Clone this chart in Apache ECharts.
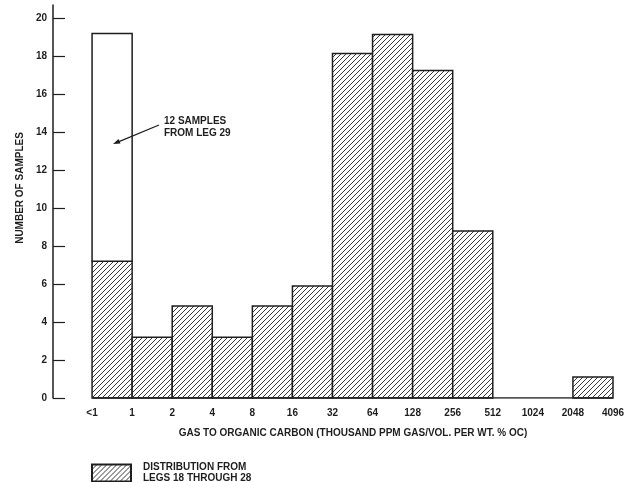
<!DOCTYPE html>
<html><head><meta charset="utf-8">
<script src="https://cdn.jsdelivr.net/npm/echarts@6/dist/echarts.min.js"></script>
<style>html,body{margin:0;padding:0;background:#fff}#c{width:640px;height:482px}</style>
</head><body><div id="c"></div>
<script>
// Bin edge labels (x axis)
const binLabels = ['<1','1','2','4','8','16','32','64','128','256','512','1024','2048','4096'];
// Hatched: distribution from Legs 18 through 28
const legs18to28 = [7.2, 3.2, 4.85, 3.2, 4.85, 5.9, 18.15, 19.15, 17.25, 8.8, 0, 0, 1.1];
// Open: 12 samples from Leg 29 (stacked on top)
const leg29 = [12, 0, 0, 0, 0, 0, 0, 0, 0, 0, 0, 0, 0];
// Y tick values
const yTicks = [0, 2, 4, 6, 8, 10, 12, 14, 16, 18, 20];
const edgeValues = binLabels.map((_, i) => i);

const FONT = 'Liberation Sans, Arial, sans-serif';
const INK = '#1e1e1e';

function hatchCanvas() {
  const s = 5;
  const c = document.createElement('canvas');
  c.width = s; c.height = s;
  const g = c.getContext('2d');
  g.fillStyle = '#fff'; g.fillRect(0, 0, s, s);
  g.strokeStyle = '#3a3a3a'; g.lineWidth = 1;
  g.beginPath();
  g.moveTo(0, s); g.lineTo(s, 0);
  g.moveTo(-1, 1); g.lineTo(1, -1);
  g.moveTo(s - 1, s + 1); g.lineTo(s + 1, s - 1);
  g.stroke();
  return c;
}
const hatch = { image: hatchCanvas(), repeat: 'repeat' };

const hatchedData = legs18to28.map((v, i) => [i, i + 1, 0, v]);
const openData = leg29.map((v, i) => [i, i + 1, legs18to28[i], legs18to28[i] + v]).filter(d => d[3] > d[2]);
const baseline = [[0, 0], [binLabels.length - 1, 0]];

function makeRender(fill) {
  return function (params, api) {
    const x0 = api.value(0), x1 = api.value(1), y0 = api.value(2), y1 = api.value(3);
    if (y1 <= y0) return null;
    const p0 = api.coord([x0, y1]);
    const p1 = api.coord([x1, y0]);
    return {
      type: 'rect',
      shape: { x: p0[0], y: p0[1], width: p1[0] - p0[0], height: p1[1] - p0[1] },
      style: { fill: fill, stroke: INK, lineWidth: 1.5 }
    };
  };
}

const txt = { fontSize: 10, fontWeight: 'bold', color: INK, fontFamily: FONT };

const chart = echarts.init(document.getElementById('c'), null, { renderer: 'canvas' });
chart.setOption({
  animation: false,
  backgroundColor: '#fff',
  grid: { left: 53, right: 27, top: 5, bottom: 84 },
  xAxis: {
    type: 'value', min: -0.975, max: binLabels.length - 1,
    axisLine: { show: false, onZero: false },
    axisTick: { show: false },
    splitLine: { show: false },
    axisLabel: Object.assign({ margin: 10, customValues: edgeValues, formatter: v => binLabels[Math.round(v)] }, txt)
  },
  yAxis: {
    type: 'value', min: 0, max: 20.7,
    axisLine: { show: true, onZero: false, lineStyle: { color: INK, width: 1.5 } },
    axisTick: { show: true, inside: true, length: 12, lineStyle: { color: INK, width: 1.2 }, customValues: yTicks },
    splitLine: { show: false },
    axisLabel: Object.assign({ margin: 6, customValues: yTicks }, txt)
  },
  legend: {
    data: ['DISTRIBUTION FROM\nLEGS 18 THROUGH 28'],
    left: 86, top: 457, itemWidth: 39, itemHeight: 17, icon: 'rect',
    selectedMode: false,
    textStyle: Object.assign({ lineHeight: 11, padding: [0, 0, 0, 7] }, txt)
  },
  series: [
    {
      name: 'DISTRIBUTION FROM\nLEGS 18 THROUGH 28',
      type: 'custom',
      renderItem: makeRender(hatch),
      itemStyle: { color: hatch, borderColor: INK, borderWidth: 1.5 },
      encode: { x: [0, 1], y: [2, 3] },
      data: hatchedData
    },
    {
      name: '12 SAMPLES FROM LEG 29',
      type: 'custom',
      renderItem: makeRender('#fff'),
      itemStyle: { color: '#fff', borderColor: INK },
      encode: { x: [0, 1], y: [2, 3] },
      data: openData
    },
    {
      name: 'baseline',
      type: 'line',
      data: baseline,
      showSymbol: false,
      symbol: 'none',
      silent: true,
      z: 5,
      lineStyle: { color: INK, width: 1.5 }
    }
  ],
  graphic: [
    { type: 'text', x: 20, y: 188, rotation: Math.PI / 2, z: 10,
      style: { text: 'NUMBER OF SAMPLES', fontSize: 10, fontWeight: 'bold', fontFamily: FONT, fill: INK, align: 'center', verticalAlign: 'middle' } },
    { type: 'text', x: 353, y: 433, z: 10,
      style: { text: 'GAS TO ORGANIC CARBON (THOUSAND PPM GAS/VOL. PER WT. % OC)', fontSize: 10, fontWeight: 'bold', fontFamily: FONT, fill: INK, align: 'center', verticalAlign: 'middle' } },
    { type: 'text', x: 164, y: 127, z: 10,
      style: { text: '12 SAMPLES\nFROM LEG 29', fontSize: 10, fontWeight: 'bold', lineHeight: 12, fontFamily: FONT, fill: INK, align: 'left', verticalAlign: 'middle' } },
    { type: 'line', z: 10, shape: { x1: 159, y1: 125, x2: 116, y2: 142.8 }, style: { stroke: INK, lineWidth: 1.3 } },
    { type: 'polygon', z: 10, shape: { points: [[113, 144], [120.5, 143.6], [118.5, 139]] }, style: { fill: INK } }
  ]
});
</script>
</body></html>
